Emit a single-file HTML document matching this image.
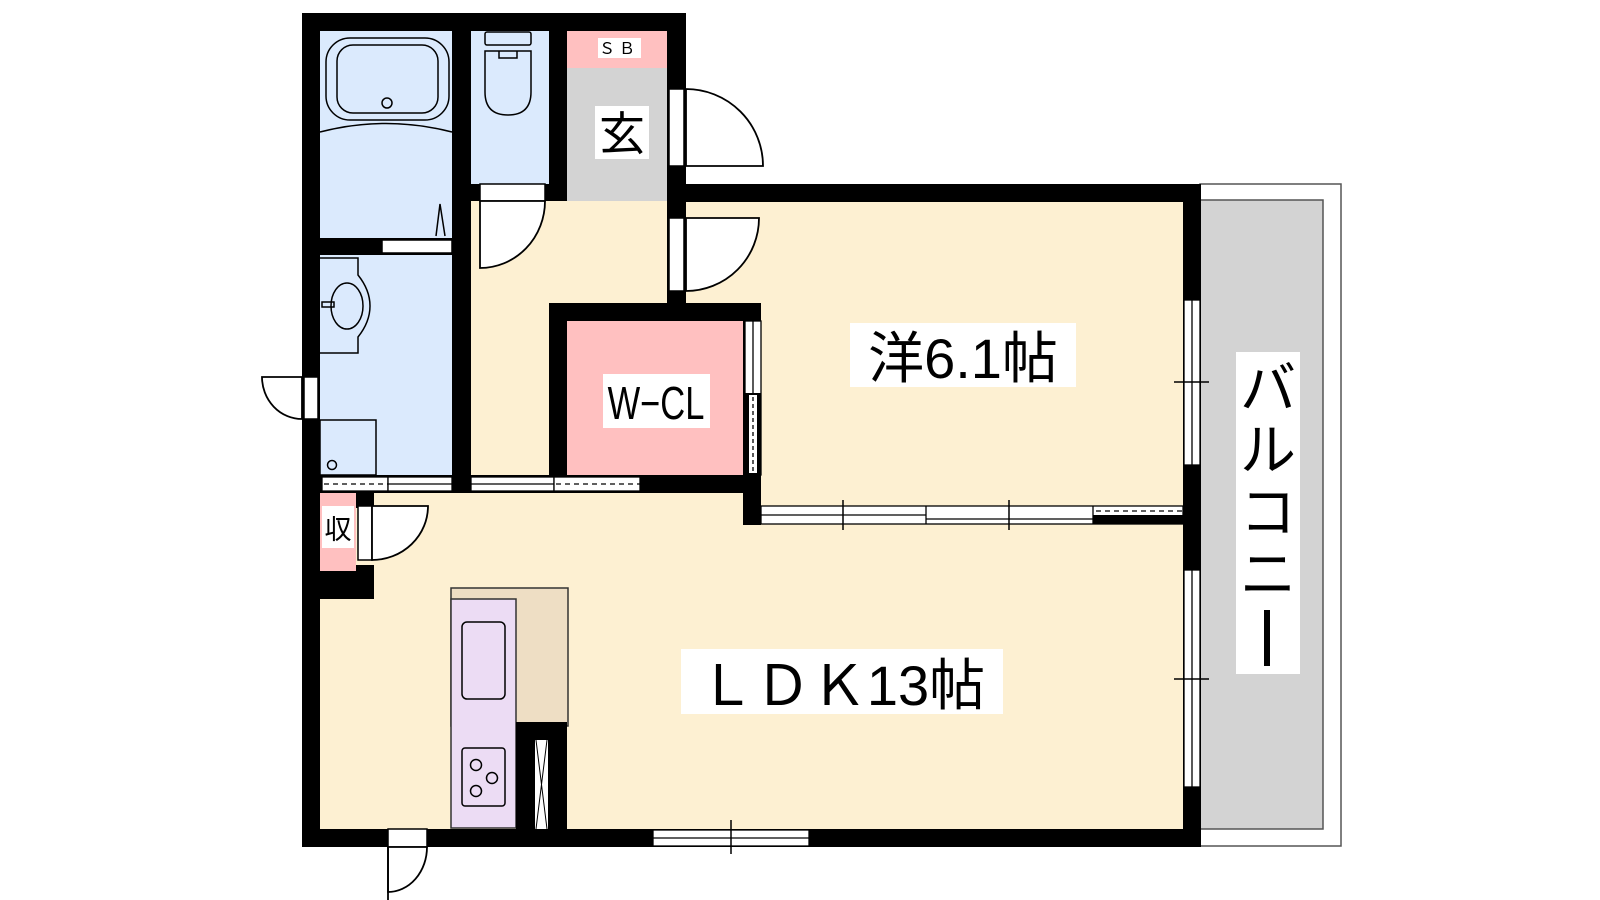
<!DOCTYPE html>
<html><head><meta charset="utf-8"><style>
html,body{margin:0;padding:0;background:#fff;width:1600px;height:900px;overflow:hidden}
svg{display:block}
text{font-family:"Liberation Sans","Noto Sans CJK JP",sans-serif;fill:#000}
</style></head><body>
<svg width="1600" height="900" viewBox="0 0 1600 900" xmlns="http://www.w3.org/2000/svg">
<!-- floors -->
<rect x="320" y="31" width="863" height="798" fill="#fdf0d2"/>
<rect x="686" y="31" width="497" height="153" fill="#fff"/>
<rect x="320" y="31" width="132" height="444" fill="#dbeafd"/>
<rect x="471" y="31" width="78" height="153" fill="#dbeafd"/>
<rect x="567" y="31" width="100" height="37" fill="#ffc0c0"/>
<rect x="567" y="68" width="100" height="133" fill="#d3d3d3"/>
<rect x="567" y="321" width="178" height="154" fill="#ffc0c0"/>
<rect x="320" y="493" width="36" height="78" fill="#ffc0c0"/>
<!-- balcony -->
<rect x="1200" y="184" width="141" height="662" fill="#fff" stroke="#555" stroke-width="1.5"/>
<rect x="1200" y="200" width="123" height="629" fill="#d3d3d3" stroke="#555" stroke-width="1.5"/>
<!-- bath fixtures -->
<g fill="none" stroke="#000" stroke-width="1.5">
<rect x="326" y="38" width="123" height="82" rx="24"/>
<rect x="337" y="45" width="101" height="68" rx="16"/>
<circle cx="387" cy="103" r="5"/>
<path d="M320 132 Q386 115 452 132"/>
<path d="M436 236 L440 204 L445 236"/>
<rect x="485" y="32" width="46" height="13" rx="2"/>
<path d="M485 51 H531 V92 Q531 115 508 115 Q485 115 485 92 Z"/>
<path d="M499 51 V58 H517 V51"/>
<path d="M320 258 H358 V275 Q370 290 370 306 Q370 322 358 337 V353 H320"/>
<ellipse cx="347" cy="306" rx="16" ry="23"/>
<rect x="322" y="302" width="12" height="5"/>
<rect x="320" y="420" width="56" height="55"/>
<circle cx="332" cy="465" r="4.5"/>
</g>
<!-- kitchen -->
<rect x="451" y="588" width="117" height="138" fill="#eedec4" stroke="#333" stroke-width="1.5"/>
<rect x="451" y="599" width="65" height="229" fill="#ecdcf4" stroke="#333" stroke-width="1.5"/>
<rect x="462" y="622" width="43" height="77" rx="5" fill="none" stroke="#000" stroke-width="1.5"/>
<rect x="462" y="748" width="43" height="58" rx="3" fill="none" stroke="#000" stroke-width="1.5"/>
<g fill="none" stroke="#000" stroke-width="1.5">
<circle cx="476" cy="765" r="5.5"/><circle cx="492" cy="778" r="5.5"/><circle cx="476" cy="791" r="5.5"/>
</g>
<rect x="516" y="722" width="51" height="107" fill="#000"/>
<rect x="535" y="740" width="13" height="89" fill="#fff"/>
<path d="M536 740 L547 829 M547 740 L536 829" stroke="#000" stroke-width="1"/>
<!-- walls -->
<g fill="#000">
<rect x="302" y="13" width="384" height="18"/>
<rect x="302" y="13" width="18" height="834"/>
<rect x="667" y="13" width="19" height="290"/>
<rect x="686" y="184" width="515" height="18"/>
<rect x="1183" y="184" width="18" height="663"/>
<rect x="302" y="829" width="899" height="18"/>
<rect x="452" y="31" width="19" height="462"/>
<rect x="549" y="31" width="18" height="170"/>
<rect x="471" y="184" width="96" height="17"/>
<rect x="320" y="238" width="132" height="17"/>
<rect x="549" y="303" width="212" height="18"/>
<rect x="549" y="303" width="18" height="172"/>
<rect x="320" y="475" width="441" height="18"/>
<rect x="743" y="303" width="18" height="222"/>
<rect x="356" y="493" width="18" height="15"/>
<rect x="356" y="565" width="18" height="34"/>
<rect x="320" y="571" width="54" height="28"/>
</g>
<!-- openings / doors -->
<g fill="#fff" stroke="#000" stroke-width="1.5">
<rect x="669" y="89" width="15" height="77"/>
<rect x="669" y="218" width="15" height="73"/>
<rect x="480" y="184" width="65" height="17"/>
<rect x="382" y="240" width="70" height="13"/>
<rect x="304" y="377" width="14" height="42"/>
<rect x="358" y="506" width="14" height="54"/>
<rect x="388" y="829" width="39" height="18"/>
</g>
<g fill="#fff" stroke="#000" stroke-width="1.8">
<path d="M686 89 A77 77 0 0 1 763 166 H686 Z"/>
<path d="M686 218 H759 A73 73 0 0 1 686 291 Z"/>
<path d="M480 201 H545 A65 67 0 0 1 480 268 Z"/>
<path d="M302 377 H262 A40 42 0 0 0 302 419 Z"/>
<path d="M372 506 H428 A56 54 0 0 1 372 560 Z"/>
<path d="M388 847 H427 A39 45 0 0 1 388 892 Z"/>
</g>
<path d="M388 847 V900" stroke="#000" stroke-width="1.8"/>
<!-- windows -->
<g fill="#fff" stroke="#000" stroke-width="1.3">
<rect x="1184" y="300" width="16" height="165"/><line x1="1192" y1="300" x2="1192" y2="465"/>
<rect x="1184" y="570" width="16" height="217"/><line x1="1192" y1="570" x2="1192" y2="787"/>
<rect x="653" y="830" width="156" height="16"/><line x1="653" y1="838" x2="809" y2="838"/>
<rect x="745" y="321" width="16" height="154"/><line x1="753" y1="321" x2="753" y2="475"/>
<rect x="761" y="506" width="422" height="18"/>
<line x1="761" y1="515" x2="926" y2="515"/><line x1="926" y1="506" x2="926" y2="524"/>
<line x1="926" y1="519" x2="1093" y2="519"/><line x1="1093" y1="506" x2="1093" y2="524"/>
<rect x="322" y="477" width="66" height="14"/><rect x="388" y="477" width="64" height="14"/>
<rect x="471" y="477" width="83" height="14"/><rect x="554" y="477" width="86" height="14"/>
</g>
<rect x="745" y="393" width="16" height="82" fill="#000"/>
<rect x="749" y="395" width="8" height="78" fill="#fff"/>
<line x1="753" y1="397" x2="753" y2="473" stroke="#000" stroke-width="1.3" stroke-dasharray="4 3"/>
<rect x="1093" y="515" width="90" height="9" fill="#000"/>
<g stroke="#000" stroke-width="1.3" stroke-dasharray="5 4">
<line x1="1096" y1="511" x2="1183" y2="511"/>
<line x1="324" y1="484" x2="388" y2="484"/>
<line x1="556" y1="484" x2="640" y2="484"/>
</g>
<line x1="388" y1="484" x2="452" y2="484" stroke="#000" stroke-width="1.3"/>
<line x1="471" y1="484" x2="554" y2="484" stroke="#000" stroke-width="1.3"/>
<g stroke="#000" stroke-width="1.5">
<line x1="1174" y1="382" x2="1209" y2="382"/><line x1="1174" y1="679" x2="1209" y2="679"/>
<line x1="731" y1="820" x2="731" y2="854"/>
<line x1="843" y1="500" x2="843" y2="530"/><line x1="1009" y1="500" x2="1009" y2="530"/>
</g>
<!-- labels -->
<rect x="598" y="38" width="43" height="20" fill="#fff"/>
<text x="619" y="54" font-size="16" text-anchor="middle" letter-spacing="4">ＳＢ</text>
<rect x="595" y="106" width="54" height="53" fill="#fff"/>
<text x="622" y="150" font-size="46" text-anchor="middle">玄</text>
<rect x="603" y="374" width="107" height="54" fill="#fff"/>
<text x="656" y="419" font-size="46" text-anchor="middle" transform="translate(656 0) scale(0.75 1) translate(-656 0)">W−CL</text>
<rect x="850" y="323" width="226" height="64" fill="#fff"/>
<text x="963" y="378" font-size="56" text-anchor="middle">洋6.1帖</text>
<rect x="681" y="649" width="322" height="65" fill="#fff"/>
<text x="842" y="705" font-size="56" text-anchor="middle">ＬＤＫ13帖</text>
<rect x="1236" y="352" width="64" height="322" fill="#fff"/>
<text x="1268" y="408" font-size="56" text-anchor="middle">バ</text>
<text x="1268" y="470" font-size="56" text-anchor="middle">ル</text>
<text x="1268" y="532" font-size="56" text-anchor="middle">コ</text>
<text x="1268" y="594" font-size="56" text-anchor="middle">ニ</text>
<rect x="1264" y="610" width="6" height="56" fill="#000"/>
<rect x="322" y="506" width="32" height="42" fill="#fff"/>
<text x="338" y="539" font-size="27" text-anchor="middle">収</text>
</svg>
</body></html>
